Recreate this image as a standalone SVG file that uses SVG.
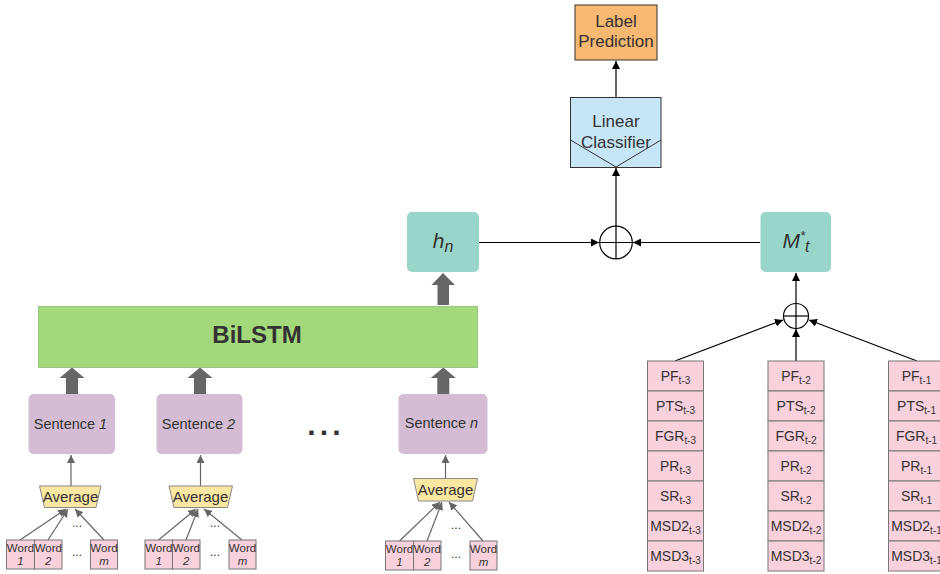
<svg xmlns="http://www.w3.org/2000/svg" width="940" height="574" viewBox="0 0 940 574">
<defs>
<marker id="ab" viewBox="0 0 10 10" refX="10" refY="5" markerWidth="8" markerHeight="8" markerUnits="userSpaceOnUse" orient="auto"><path d="M0,0 L10,5 L0,10 z" fill="#000"/></marker>
<marker id="ag" viewBox="0 0 10 10" refX="10" refY="5" markerWidth="8" markerHeight="8" markerUnits="userSpaceOnUse" orient="auto"><path d="M0,0 L10,5 L0,10 z" fill="#666"/></marker>
<style>
text{font-family:"Liberation Sans",Arial,sans-serif;fill:#333;text-anchor:middle}
.sent{fill:#d4bdd4}
.teal{fill:#9ad5ca}
.cell{fill:#f8d1dd;stroke:#777;stroke-width:1}
.word{fill:#f8d1dd;stroke:#777;stroke-width:1}
.avg{fill:#fbe7a1;stroke:#888;stroke-width:1}
.blk{fill:#666}
.thin{stroke:#000;stroke-width:1.2;fill:none}
.gl{stroke:#666;stroke-width:1.2;fill:none}
.c13{font-size:14px}
.c11{font-size:11.5px}
.s{font-size:10px}
.i{font-style:italic}
</style>
</defs>

<g id="connectors">
<line class="thin" x1="616" y1="97" x2="616" y2="61" marker-end="url(#ab)"/>
<line class="thin" x1="616" y1="226" x2="616" y2="168" marker-end="url(#ab)"/>
<line class="thin" x1="479" y1="242.5" x2="599" y2="242.5" marker-end="url(#ab)"/>
<line class="thin" x1="760" y1="242.5" x2="633" y2="242.5" marker-end="url(#ab)"/>
<line class="thin" x1="796" y1="303" x2="796" y2="273" marker-end="url(#ab)"/>
<line class="thin" x1="675" y1="361" x2="783" y2="320" marker-end="url(#ab)"/>
<line class="thin" x1="796" y1="361" x2="796" y2="329" marker-end="url(#ab)"/>
<line class="thin" x1="917" y1="361" x2="809" y2="320" marker-end="url(#ab)"/>
<polygon class="blk" points="443,273 455,285 449,285 449,305 437.5,305 437.5,285 431.5,285"/>
<polygon class="blk" points="72,367.5 84.5,378 78,378 78,394 66,394 66,378 59.5,378"/>
<polygon class="blk" points="200,367.5 212.5,378 206,378 206,394 194,394 194,378 187.5,378"/>
<polygon class="blk" points="443.3,367.5 455.8,378 449.3,378 449.3,394 437.3,394 437.3,378 430.8,378"/>
<line class="gl" x1="71" y1="486" x2="71" y2="455" marker-end="url(#ag)"/>
<line class="gl" x1="200.5" y1="486" x2="200.5" y2="455" marker-end="url(#ag)"/>
<line class="gl" x1="445.5" y1="478" x2="445.5" y2="455" marker-end="url(#ag)"/>
<line class="gl" x1="20" y1="540" x2="66" y2="509" marker-end="url(#ag)"/>
<line class="gl" x1="48" y1="540" x2="68" y2="509" marker-end="url(#ag)"/>
<line class="gl" x1="104" y1="540" x2="75" y2="509" marker-end="url(#ag)"/>
<line class="gl" x1="158.5" y1="540" x2="196" y2="509" marker-end="url(#ag)"/>
<line class="gl" x1="186" y1="540" x2="198" y2="509" marker-end="url(#ag)"/>
<line class="gl" x1="242" y1="540" x2="204" y2="509" marker-end="url(#ag)"/>
<line class="gl" x1="399.5" y1="541" x2="440" y2="502" marker-end="url(#ag)"/>
<line class="gl" x1="427" y1="541" x2="442" y2="502" marker-end="url(#ag)"/>
<line class="gl" x1="483" y1="541" x2="449" y2="502" marker-end="url(#ag)"/>
</g>

<g id="label-prediction">
<rect x="575" y="5" width="82" height="55" fill="#f9b872" stroke="#333" stroke-width="1"/>
<text x="616" y="26.5" font-size="17">Label</text>
<text x="616" y="46.5" font-size="17">Prediction</text>
</g>

<g id="linear-classifier">
<rect x="570.5" y="97.5" width="90.5" height="70" fill="#c6e5f7" stroke="#333" stroke-width="1"/>
<polyline points="570.5,140 616,167 661,140" fill="none" stroke="#333" stroke-width="1"/>
<text x="616" y="126.5" font-size="17">Linear</text>
<text x="616" y="147.5" font-size="17">Classifier</text>
</g>

<g id="sum-top">
<circle cx="616" cy="242.5" r="16.3" fill="#fff" stroke="#000" stroke-width="1.2"/>
<line x1="599.7" y1="242.5" x2="632.3" y2="242.5" stroke="#000" stroke-width="1.2"/>
<line x1="616" y1="226.2" x2="616" y2="258.8" stroke="#000" stroke-width="1.2"/>
</g>

<g id="hn">
<rect class="teal" x="407" y="212" width="72" height="60" rx="5"/>
<text x="443" y="248" font-size="21" class="i">h<tspan font-size="16" dy="4">n</tspan></text>
</g>

<g id="mt">
<rect class="teal" x="760.5" y="212" width="70.5" height="60" rx="5"/>
<text x="796" y="248" font-size="21" class="i">M<tspan font-size="13" dy="-8">*</tspan><tspan font-size="16" dy="12">t</tspan></text>
</g>

<g id="sum-small">
<circle cx="796" cy="316" r="12.5" fill="#fff" stroke="#000" stroke-width="1.2"/>
<line x1="783.5" y1="316" x2="808.5" y2="316" stroke="#000" stroke-width="1.2"/>
<line x1="796" y1="303.5" x2="796" y2="328.5" stroke="#000" stroke-width="1.2"/>
</g>

<g id="bilstm">
<rect x="38.5" y="306.5" width="439" height="61" fill="#a4d97b" stroke="#9cc486" stroke-width="1"/>
<text x="257" y="343" font-size="24" font-weight="bold">BiLSTM</text>
</g>

<g id="sentence-1">
<rect class="sent" x="28.5" y="394" width="86.5" height="60" rx="5"/>
<text x="70.5" y="429" font-size="14.5">Sentence <tspan class="i">1</tspan></text>
</g>
<g id="sentence-2">
<rect class="sent" x="156.5" y="394" width="86" height="60" rx="5"/>
<text x="198.5" y="429" font-size="14.5">Sentence <tspan class="i">2</tspan></text>
</g>
<g id="sentence-n">
<rect class="sent" x="398.5" y="394" width="89" height="60" rx="5"/>
<text x="441.5" y="428" font-size="14.5">Sentence <tspan class="i">n</tspan></text>
</g>

<g id="ellipsis-big">
<text x="326" y="435" font-size="30" font-weight="bold" letter-spacing="4.2">...</text>
</g>

<g id="average-1">
<polygon class="avg" points="39.5,486 101,486 96,507.5 44.5,507.5"/>
<text x="70.5" y="502" font-size="15">Average</text>
</g>
<g id="average-2">
<polygon class="avg" points="169,486 232.5,486 227.5,507.5 174,507.5"/>
<text x="200.5" y="502" font-size="15">Average</text>
</g>
<g id="average-n">
<polygon class="avg" points="413.5,478.5 477.5,478.5 472.5,501 418.5,501"/>
<text x="445.5" y="495" font-size="15">Average</text>
</g>

<g id="words-1">
<rect class="word" x="6.5" y="540" width="28" height="29"/>
<rect class="word" x="34.5" y="540" width="27.5" height="29"/>
<rect class="word" x="90.5" y="540" width="27" height="29"/>
<text class="c11" x="20.5" y="552">Word</text><text class="c11 i" x="20.5" y="565">1</text>
<text class="c11" x="48.3" y="552">Word</text><text class="c11 i" x="48.3" y="565">2</text>
<text class="c11" x="104" y="552">Word</text><text class="c11 i" x="104" y="565">m</text>
<text x="77" y="527" font-size="12">...</text>
<text x="77" y="556" font-size="12">...</text>
</g>
<g id="words-2">
<rect class="word" x="145" y="540" width="27.5" height="29"/>
<rect class="word" x="172.5" y="540" width="27.5" height="29"/>
<rect class="word" x="229" y="540" width="27" height="29"/>
<text class="c11" x="158.8" y="552">Word</text><text class="c11 i" x="158.8" y="565">1</text>
<text class="c11" x="186.3" y="552">Word</text><text class="c11 i" x="186.3" y="565">2</text>
<text class="c11" x="242.5" y="552">Word</text><text class="c11 i" x="242.5" y="565">m</text>
<text x="215" y="527" font-size="12">...</text>
<text x="215" y="556" font-size="12">...</text>
</g>
<g id="words-n">
<rect class="word" x="385.5" y="541" width="28" height="29"/>
<rect class="word" x="413.5" y="541" width="27.5" height="29"/>
<rect class="word" x="470" y="541" width="27" height="29"/>
<text class="c11" x="399.5" y="553">Word</text><text class="c11 i" x="399.5" y="566">1</text>
<text class="c11" x="427.3" y="553">Word</text><text class="c11 i" x="427.3" y="566">2</text>
<text class="c11" x="483.5" y="553">Word</text><text class="c11 i" x="483.5" y="566">m</text>
<text x="456" y="529" font-size="12">...</text>
<text x="456" y="558" font-size="12">...</text>
</g>

<g id="features-t-3">
<rect class="cell" x="647.5" y="361" width="56" height="30"/>
<rect class="cell" x="647.5" y="391" width="56" height="30"/>
<rect class="cell" x="647.5" y="421" width="56" height="30"/>
<rect class="cell" x="647.5" y="451" width="56" height="30"/>
<rect class="cell" x="647.5" y="481" width="56" height="30"/>
<rect class="cell" x="647.5" y="511" width="56" height="30"/>
<rect class="cell" x="647.5" y="541" width="56" height="30"/>
<text class="c13" x="675.5" y="381">PF<tspan class="s" dy="3">t-3</tspan></text>
<text class="c13" x="675.5" y="411">PTS<tspan class="s" dy="3">t-3</tspan></text>
<text class="c13" x="675.5" y="441">FGR<tspan class="s" dy="3">t-3</tspan></text>
<text class="c13" x="675.5" y="471">PR<tspan class="s" dy="3">t-3</tspan></text>
<text class="c13" x="675.5" y="501">SR<tspan class="s" dy="3">t-3</tspan></text>
<text class="c13" x="675.5" y="531">MSD2<tspan class="s" dy="3">t-3</tspan></text>
<text class="c13" x="675.5" y="561">MSD3<tspan class="s" dy="3">t-3</tspan></text>
</g>

<g id="features-t-2">
<rect class="cell" x="768" y="361" width="56" height="30"/>
<rect class="cell" x="768" y="391" width="56" height="30"/>
<rect class="cell" x="768" y="421" width="56" height="30"/>
<rect class="cell" x="768" y="451" width="56" height="30"/>
<rect class="cell" x="768" y="481" width="56" height="30"/>
<rect class="cell" x="768" y="511" width="56" height="30"/>
<rect class="cell" x="768" y="541" width="56" height="30"/>
<text class="c13" x="796" y="381">PF<tspan class="s" dy="3">t-2</tspan></text>
<text class="c13" x="796" y="411">PTS<tspan class="s" dy="3">t-2</tspan></text>
<text class="c13" x="796" y="441">FGR<tspan class="s" dy="3">t-2</tspan></text>
<text class="c13" x="796" y="471">PR<tspan class="s" dy="3">t-2</tspan></text>
<text class="c13" x="796" y="501">SR<tspan class="s" dy="3">t-2</tspan></text>
<text class="c13" x="796" y="531">MSD2<tspan class="s" dy="3">t-2</tspan></text>
<text class="c13" x="796" y="561">MSD3<tspan class="s" dy="3">t-2</tspan></text>
</g>

<g id="features-t-1">
<rect class="cell" x="888.5" y="361" width="56" height="30"/>
<rect class="cell" x="888.5" y="391" width="56" height="30"/>
<rect class="cell" x="888.5" y="421" width="56" height="30"/>
<rect class="cell" x="888.5" y="451" width="56" height="30"/>
<rect class="cell" x="888.5" y="481" width="56" height="30"/>
<rect class="cell" x="888.5" y="511" width="56" height="30"/>
<rect class="cell" x="888.5" y="541" width="56" height="30"/>
<text class="c13" x="916.5" y="381">PF<tspan class="s" dy="3">t-1</tspan></text>
<text class="c13" x="916.5" y="411">PTS<tspan class="s" dy="3">t-1</tspan></text>
<text class="c13" x="916.5" y="441">FGR<tspan class="s" dy="3">t-1</tspan></text>
<text class="c13" x="916.5" y="471">PR<tspan class="s" dy="3">t-1</tspan></text>
<text class="c13" x="916.5" y="501">SR<tspan class="s" dy="3">t-1</tspan></text>
<text class="c13" x="916.5" y="531">MSD2<tspan class="s" dy="3">t-1</tspan></text>
<text class="c13" x="916.5" y="561">MSD3<tspan class="s" dy="3">t-1</tspan></text>
</g>
</svg>
